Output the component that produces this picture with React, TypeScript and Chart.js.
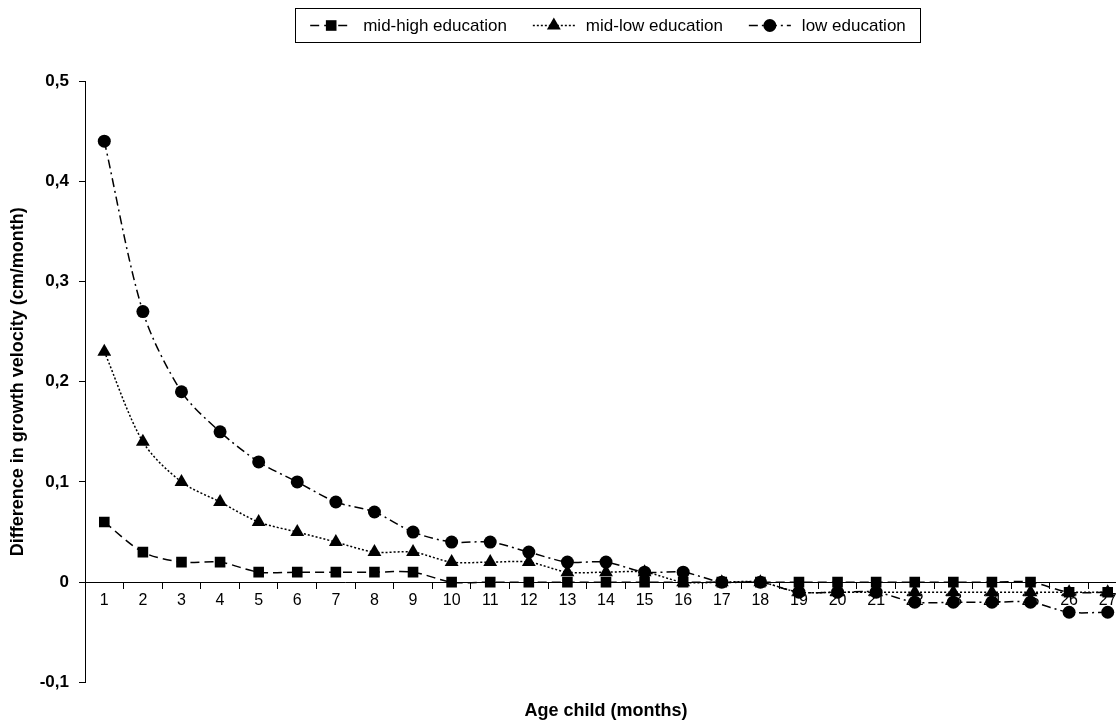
import React, { useEffect, useRef } from 'react';
import { Chart, registerables } from 'chart.js';

Chart.register(...registerables);

const FONT = '"Liberation Sans", Arial, sans-serif';

const ageMonths = ['1', '2', '3', '4', '5', '6', '7', '8', '9', '10', '11', '12', '13', '14', '15', '16', '17', '18', '19', '20', '21', '22', '23', '24', '25', '26', '27'];

const midHighEducation = [0.06, 0.03, 0.02, 0.02, 0.01, 0.01, 0.01, 0.01, 0.01, 0, 0, 0, 0, 0, 0, 0, 0, 0, 0, 0, 0, 0, 0, 0, 0, -0.01, -0.01];
const midLowEducation = [0.23, 0.14, 0.10, 0.08, 0.06, 0.05, 0.04, 0.03, 0.03, 0.02, 0.02, 0.02, 0.01, 0.01, 0.01, 0, 0, 0, -0.01, -0.01, -0.01, -0.01, -0.01, -0.01, -0.01, -0.01, -0.01];
const lowEducation = [0.44, 0.27, 0.19, 0.15, 0.12, 0.10, 0.08, 0.07, 0.05, 0.04, 0.04, 0.03, 0.02, 0.02, 0.01, 0.01, 0, 0, -0.01, -0.01, -0.01, -0.02, -0.02, -0.02, -0.02, -0.03, -0.03];

const seriesLabels = ['mid-high education', 'mid-low education', 'low education'];

const yTickValues = [-0.1, 0, 0.1, 0.2, 0.3, 0.4, 0.5];
const yTickLabels = ['-0,1', '0', '0,1', '0,2', '0,3', '0,4', '0,5'];

function drawMarker(ctx: CanvasRenderingContext2D, style: string, x: number, y: number, r: number) {
  ctx.beginPath();
  if (style === 'rect') {
    const s = r * Math.SQRT1_2;
    ctx.rect(x - s, y - s, 2 * s, 2 * s);
  } else if (style === 'triangle') {
    ctx.moveTo(x, y - r);
    ctx.lineTo(x + r * 0.866, y + r * 0.5);
    ctx.lineTo(x - r * 0.866, y + r * 0.5);
    ctx.closePath();
  } else {
    ctx.arc(x, y, r, 0, Math.PI * 2);
  }
  ctx.fill();
}

const boxLegend = {
  id: 'boxLegend',
  afterDraw(chart: any) {
    const ctx: CanvasRenderingContext2D = chart.ctx;
    ctx.save();
    const bx = 295.5, by = 8.5, bw = 625, bh = 34;
    ctx.strokeStyle = '#000';
    ctx.lineWidth = 1;
    ctx.setLineDash([]);
    ctx.strokeRect(bx, by, bw, bh);
    ctx.font = '17px ' + FONT;
    ctx.textBaseline = 'middle';
    ctx.textAlign = 'left';
    const sampleW = 42, gapText = 11, gapItem = 26;
    const items = chart.data.datasets.map((ds: any) => ({ ds, tw: ctx.measureText(ds.label).width }));
    let total = 0;
    items.forEach((it: any, i: number) => { total += sampleW + gapText + it.tw + (i > 0 ? gapItem : 0); });
    let x = bx + (bw - total) / 2;
    const cy = by + bh / 2;
    items.forEach((it: any) => {
      const ds = it.ds;
      ctx.strokeStyle = '#000';
      ctx.fillStyle = '#000';
      ctx.lineWidth = ds.borderWidth;
      ctx.setLineDash(ds.borderDash || []);
      ctx.beginPath();
      ctx.moveTo(x, cy);
      ctx.lineTo(x + sampleW, cy);
      ctx.stroke();
      ctx.setLineDash([]);
      drawMarker(ctx, ds.pointStyle, x + sampleW / 2, cy, ds.pointRadius);
      ctx.fillText(ds.label, x + sampleW + gapText, cy + 1);
      x += sampleW + gapText + it.tw + gapItem;
    });
    ctx.restore();
  },
};

export default function App() {
  const ref = useRef<HTMLCanvasElement | null>(null);

  useEffect(() => {
    if (!ref.current) return;
    const common = {
      borderColor: '#000',
      backgroundColor: '#000',
      pointBackgroundColor: '#000',
      pointBorderColor: '#000',
      borderWidth: 1.5,
      pointBorderWidth: 0,
      tension: 0.3,
      fill: false,
    };
    const chart = new Chart(ref.current, {
      type: 'line',
      data: {
        labels: ageMonths,
        datasets: [
          { ...common, label: seriesLabels[0], data: midHighEducation, borderDash: [9, 5], pointStyle: 'rect', pointRadius: 7.5 },
          { ...common, label: seriesLabels[1], data: midLowEducation, borderDash: [2, 2], pointStyle: 'triangle', pointRadius: 8 },
          { ...common, label: seriesLabels[2], data: lowEducation, borderDash: [9, 4, 2, 4], pointStyle: 'circle', pointRadius: 6.5 },
        ],
      },
      options: {
        animation: false,
        responsive: false,
        devicePixelRatio: 1,
        layout: { padding: { top: 81, right: 13, bottom: 0, left: 0 } },
        plugins: { legend: { display: false }, tooltip: { enabled: false }, title: { display: false } },
        scales: {
          x: {
            type: 'category',
            position: { y: 0 } as any,
            offset: true,
            grid: { drawOnChartArea: false, offset: true, drawTicks: true, tickLength: 6, color: '#000', lineWidth: 1 },
            border: { display: true, color: '#000', width: 1 },
            ticks: { color: '#000', font: { family: FONT, size: 16 }, padding: 3, autoSkip: false, maxRotation: 0 },
          },
          x2: {
            type: 'category',
            position: 'bottom',
            labels: ageMonths,
            offset: true,
            grid: { display: false, drawTicks: false },
            border: { display: false },
            ticks: { display: false },
            title: { display: true, text: 'Age child (months)', color: '#000', font: { family: FONT, size: 18, weight: 'bold' }, padding: { top: 18, bottom: 0 } },
          },
          y: {
            type: 'linear',
            position: 'left',
            min: -0.1,
            max: 0.5,
            afterBuildTicks: (s: any) => { s.ticks = yTickValues.map((v) => ({ value: v })); },
            afterFit: (s: any) => { s.width = 85; },
            grid: { drawOnChartArea: false, drawTicks: true, tickLength: 6, color: '#000', lineWidth: 1 },
            border: { display: true, color: '#000', width: 1 },
            ticks: {
              color: '#000',
              padding: 10,
              font: { family: FONT, size: 17, weight: 'bold' },
              callback: (v: any) => {
                let best = 0;
                yTickValues.forEach((t, i) => { if (Math.abs(t - v) < Math.abs(yTickValues[best] - v)) best = i; });
                return yTickLabels[best];
              },
            },
            title: { display: true, text: 'Difference in growth velocity (cm/month)', color: '#000', font: { family: FONT, size: 18, weight: 'bold' }, padding: { top: 7, bottom: 0 } },
          },
        },
      },
      plugins: [boxLegend],
    } as any);
    return () => chart.destroy();
  }, []);

  return (
    <div style={{ position: 'absolute', left: 0, top: 0, width: 1116, height: 722, overflow: 'hidden', background: '#fff' }}>
      <canvas ref={ref} width={1140} height={722} style={{ display: 'block', width: 1140, height: 722 }} />
    </div>
  );
}
